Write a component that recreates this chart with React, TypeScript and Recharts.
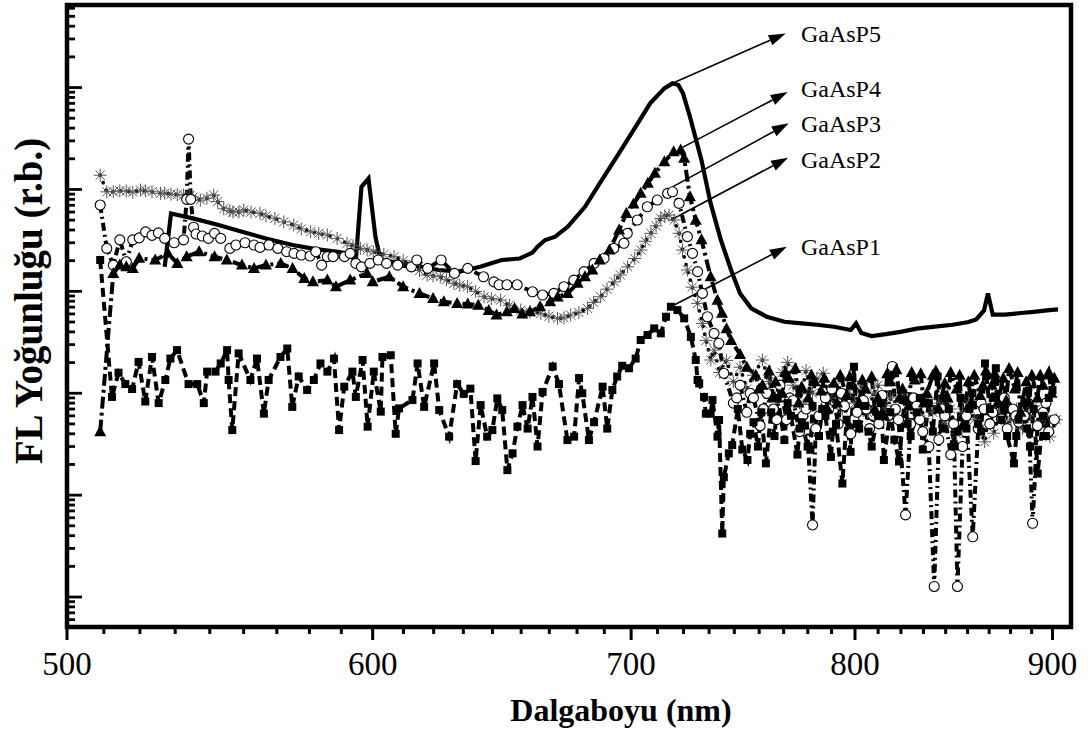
import React from 'react';
import {
  LineChart, Line, XAxis, YAxis, ReferenceArea, ReferenceLine, ReferenceDot,
} from 'recharts';

const FONT = '"Liberation Serif", "Times New Roman", serif';

// axes
const xMajor = [500, 600, 700, 800, 900];
const xDomain: [number, number] = [500, 910];
const yDomain: [number, number] = [5.08, 6.46e6];
const yDecades = [1, 10, 100, 1000, 10000, 100000, 1000000];

// GaAsP5 – solid line
const gaasp5: [number, number][] = [
  [530, 17400], [532, 58000], [539, 52000], [547, 45000], [555, 38500], [563, 33000], [572, 28500],
  [580, 26000], [587, 24500], [591, 23500], [594, 20300], [596, 106000], [598.5, 128000], [601, 34000],
  [603, 19500], [608, 19500], [615, 18000], [624, 16200], [632, 15600], [640, 17500], [648, 20300],
  [655, 21000], [660, 24000], [662, 27400], [665, 31900], [669, 34400], [674, 43000], [681, 67600],
  [687, 115000], [694, 209000], [701, 383000], [708, 700000], [714, 982000], [717.5, 1100000],
  [720, 1060000], [722, 877000], [725, 517000], [730, 194000], [734, 73000], [738.5, 31900],
  [743, 16200], [747, 9550], [752, 6810], [759, 5630], [767, 5030], [775, 4850], [782, 4700],
  [790, 4490], [798, 4170], [800.5, 4850], [803, 3900], [808, 3640], [815, 3800], [822, 4000],
  [830, 4300], [839, 4500], [848, 4700], [856, 5000], [860, 5300], [864, 6500], [866, 9550],
  [868.5, 5900], [875, 5900], [882, 6100], [890, 6300], [897, 6500], [903, 6660],
];

// GaAsP4 – filled triangles
const gaasp4: [number, number][] = [
  [510, 420], [514, 15000], [516, 18100], [518, 17400], [520, 16800], [522, 21100], [527, 20300],
  [531, 23600], [534, 18800], [537, 21900], [541, 24500], [546, 21900], [550, 20300], [555, 18100],
  [559, 16800], [563, 18100], [568, 18800], [572, 16800], [576, 13400], [579, 12400], [584, 12900],
  [587, 11100], [592, 12900], [598, 15000], [600, 12400], [606, 13900], [611, 11100], [617, 9550],
  [622, 8500], [626, 7900], [631, 7600], [635, 7500], [639, 7300], [643, 6500], [646, 5850],
  [650, 6300], [653, 6800], [656, 6000], [659, 6300], [663, 7060], [667, 7900], [670, 8800],
  [674, 9550], [678, 12000], [681, 13900], [684, 16200], [687, 20300], [691, 25400], [695, 40000],
  [698, 58200], [701, 72000], [704, 91600], [707, 115000], [710, 144000], [714, 187000],
  [718, 235000], [721, 244000], [722.5, 202000], [725, 85000], [727.5, 50000], [730, 32000],
  [734, 13900], [737, 8200], [739, 6100], [741, 4300], [743, 3300], [747, 2400], [750, 1800],
  [754, 1500], [755.5, 1100], [757, 1200], [760, 1650], [761.5, 900], [763, 1300], [766, 1000],
  [767.5, 1600], [769, 1400], [772, 1750], [773.5, 800], [775, 1150], [778, 900], [779.5, 1500],
  [781, 1300], [784, 1050], [785.5, 1400], [787, 700], [790, 1250], [791.5, 800], [793, 1500],
  [796, 950], [797.5, 1450], [799, 1200], [802, 800], [803.5, 1350], [805, 1100], [808, 1450],
  [809.5, 700], [811, 900], [814, 600], [815.5, 1550], [817, 1300], [820, 1700], [821.5, 900],
  [823, 1100], [826, 750], [827.5, 1600], [829, 1350], [832, 1550], [833.5, 800], [835, 1000],
  [838, 1500], [839.5, 1650], [841, 700], [844, 1250], [845.5, 900], [847, 1600], [850, 1100],
  [851.5, 1500], [853, 480], [856, 1300], [857.5, 800], [859, 1500], [862, 950], [863.5, 1200],
  [865, 1650], [868, 1200], [869.5, 1550], [871, 800], [874, 1400], [875.5, 850], [877, 1750],
  [880, 1100], [881.5, 1600], [883, 650], [886, 1300], [887.5, 800], [889, 1500], [892, 900],
  [893.5, 1500], [895, 1200], [898, 1600], [899.5, 1000], [901, 1400],
];

// GaAsP3 – open circles
const gaasp3: [number, number][] = [
  [510, 70300], [512, 26400], [514, 18100], [516, 32000], [518, 19500], [520, 32000], [522, 33500],
  [524, 38300], [526, 35400], [528, 37500], [530, 33100], [533, 30000], [536, 32000], [537, 80000],
  [537.6, 312000], [538.3, 80000], [539.2, 42600], [540, 36500], [542, 34900], [544, 33100],
  [546, 37100], [548, 33100], [551, 26400], [553, 28500], [556, 30000], [559, 28500], [561, 27000],
  [564, 28500], [567, 26400], [570, 24500], [572.5, 23600], [575, 22700], [578, 22200], [580, 24500],
  [582, 18100], [584, 21900], [586, 21900], [590, 21900], [592, 23600], [594, 18800], [596, 17400],
  [599, 18800], [602, 20300], [605, 18800], [609, 18100], [614, 17400], [616, 20300], [620, 16800],
  [625, 20300], [630, 15000], [635, 16800], [641, 13900], [645, 12400], [647, 11600], [650, 11600],
  [654, 11600], [660, 9900], [664, 9200], [668.5, 9550], [672.5, 11100], [676.5, 12900],
  [680.6, 15600], [684.7, 18800], [688.8, 21100], [692.8, 26400], [697, 29600], [698.4, 37100],
  [702.6, 50100], [706.8, 67600], [711, 78700], [715.4, 91600], [717.5, 94800], [720.3, 73000],
  [723.9, 34400], [726.1, 23600], [728.3, 15600], [730.4, 9550], [732.6, 5630], [735.5, 3870],
  [737.6, 3090], [739.8, 1570], [744, 800], [745.5, 900], [747, 1200], [750, 650], [751.5, 1000],
  [753, 900], [756, 480], [757.5, 700], [759, 1000], [762, 700], [763.5, 550], [765, 1200],
  [768, 550], [769.5, 900], [771, 850], [774, 420], [775.5, 600], [777, 700], [780, 51],
  [781.5, 450], [783, 600], [786, 900], [787.5, 700], [789, 1100], [792, 500], [793.5, 1000],
  [795, 750], [798, 400], [799.5, 550], [801, 650], [804, 850], [805.5, 700], [807, 450], [810, 700],
  [811.5, 500], [813, 950], [816, 600], [818, 1830], [819.5, 700], [821, 550], [824.5, 64], [827, 500],
  [828.5, 900], [830, 750], [831.5, 550], [833, 420], [836, 300], [838.7, 12.7], [841, 350],
  [842.5, 700], [844, 600], [847, 250], [848.5, 500], [850.4, 12.7], [853, 300], [855, 600],
  [858.2, 39], [861, 450], [862.5, 800], [864, 700], [867, 500], [868.5, 650], [870, 800], [873, 560],
  [874.5, 900], [876, 450], [879, 700], [880.5, 600], [882, 520], [885, 600], [887, 800],
  [889.4, 53], [892, 480], [895, 650], [896.5, 800], [898, 420], [901, 550],
];

// GaAsP2 – asterisks
const gaasp2: [number, number][] = [
  [510, 138000], [512, 94800], [514, 95000], [516, 97000], [518, 96500], [520, 94000],
  [522.4, 98600], [524, 97000], [526, 95000], [528.7, 91600], [530, 92000], [532, 90000],
  [534, 89000], [536, 88100], [538, 87000], [539, 84000], [541.4, 78700], [543.5, 82000],
  [545.7, 88100], [547, 76000], [549, 64600], [551, 62000], [552, 60000], [554, 60000],
  [555.6, 62800], [558, 60000], [561, 58200], [563, 55000], [566, 52000], [569, 48000],
  [572.4, 44800], [575, 41000], [578.2, 38500], [581, 37000], [584, 35700], [587.4, 33100],
  [590.9, 29600], [593, 28000], [595.6, 26400], [598, 25500], [600.2, 24500], [604, 23000],
  [607.7, 21900], [611, 20000], [615, 18100], [617, 16000], [619.8, 14450], [622, 14200],
  [624.7, 13900], [627, 13000], [629.8, 12000], [632, 11500], [634.9, 11100], [638, 10000],
  [641.2, 8850], [644, 8500], [647.6, 8220], [651, 7300], [655.4, 6550], [659, 6300], [663.3, 6080],
  [666.5, 5700], [669.9, 5430], [672.5, 5500], [675.2, 5850], [678.5, 6200], [682, 6810],
  [684.5, 7800], [687.4, 8850], [690, 10500], [693, 12400], [695.5, 14500], [698.5, 17400],
  [701.5, 21000], [704.1, 25400], [706, 31000], [708.3, 37100], [710.5, 44000], [712.5, 52000],
  [714.2, 55000], [716, 56100], [718.2, 50100], [720.3, 37100], [721.8, 25400], [723.9, 16200],
  [726, 11000], [728.3, 7620], [730.4, 4850], [732, 3300], [734.1, 2120], [735.5, 2650],
  [738, 1600], [741, 2100], [744, 1300], [747, 1800], [750, 1100], [753, 1500], [757, 2120],
  [760, 1300], [763, 900], [766, 1600], [768.5, 2010], [771, 1200], [774, 800], [777, 1670],
  [780, 1000], [782, 1400], [785, 1570], [788, 900], [790.8, 1160], [794, 700], [797, 1000],
  [800, 800], [803, 1200], [806, 650], [809, 1000], [811, 1200], [814, 750], [817, 900], [820, 600],
  [823, 1000], [826, 700], [829, 850], [832, 550], [835, 900], [838, 650], [841, 800], [844, 500],
  [847, 700], [850, 400], [853, 650], [856, 800], [859, 550], [862, 450], [864.3, 334], [867, 700],
  [869, 405], [872, 650], [875, 800], [878, 550], [881, 700], [884, 450], [887, 600], [890, 750],
  [893, 500], [896, 600], [898.6, 373], [902, 550],
];

// GaAsP1 – filled squares
const gaasp1: [number, number][] = [
  [510, 20300], [513.6, 920], [515.6, 1590], [517.7, 1230], [519.8, 1100], [521.8, 2030],
  [523.9, 830], [526, 2270], [528.1, 800], [530.2, 1350], [531.8, 2190], [533.9, 2650],
  [537.6, 1230], [540.4, 1230], [542.5, 800], [543.6, 1630], [546.3, 1630], [548, 1960],
  [550.1, 2650], [550.6, 1350], [551.8, 435], [553.9, 2460], [557.8, 1350], [560, 2190],
  [562.3, 630], [563.9, 1350], [567.9, 2270], [570.2, 2750], [571.9, 735], [574.1, 1460],
  [577, 1075], [579.3, 1350], [581.6, 1960], [584, 1630], [586.3, 2190], [588.1, 435], [589.9, 1160],
  [592.8, 1630], [594, 920], [596.4, 2120], [598.2, 470], [600.4, 1630], [602.9, 660], [603.5, 2270],
  [606.5, 2360], [608.3, 400], [609.5, 710], [614.4, 857], [616.3, 1960], [618.7, 735], [622.4, 1960],
  [624.3, 684], [628, 375], [631, 1230], [633.5, 985], [636, 1110], [638, 216], [639.9, 765],
  [642.4, 375], [644.4, 435], [646.3, 890], [648.2, 684], [650.2, 176], [652.2, 257], [654.1, 470],
  [656.1, 765], [658.1, 450], [660, 920], [662, 300], [664, 1030], [668, 1830], [670.5, 1230],
  [673.9, 347], [676.6, 375], [678.6, 1410], [679.9, 1000], [682.6, 347], [684.7, 520], [688.2, 1160],
  [690.1, 450], [692.2, 1075], [694.2, 1460], [696.3, 1860], [699.1, 1760], [701.9, 2190],
  [704, 3330], [706.9, 3730], [709.7, 4330], [712.5, 3870], [714.7, 5630], [716.8, 7060],
  [719.6, 6550], [722.5, 5430], [725.4, 3570], [727.5, 2120], [728.3, 1350], [729, 1250],
  [731.1, 920], [731.9, 630], [734, 630], [734.8, 857], [737, 375], [737.7, 546], [739.1, 42],
  [739.8, 150], [742, 257], [743.5, 310], [746, 700], [748, 280], [750.3, 221], [751.5, 400],
  [753, 520], [755, 300], [756.5, 650], [758.6, 205], [761, 650], [762.5, 380], [764, 900],
  [767, 347], [768.5, 800], [770, 600], [773, 250], [774, 450], [775, 520], [777.7, 300], [779, 280],
  [780, 750], [783, 380], [784.5, 700], [786, 600], [788.6, 237], [789.5, 420], [791, 500],
  [794, 130], [796, 550], [797.9, 266], [799.5, 1820], [800.8, 500], [802, 450], [805, 750],
  [806.5, 420], [808, 300], [811, 600], [812.5, 800], [813.9, 221], [817, 650], [819, 350],
  [821.3, 214], [824, 850], [825.5, 500], [827, 380], [830, 650], [831.5, 900], [833, 280],
  [836, 800], [838, 420], [840.4, 1460], [843, 450], [844.5, 900], [846, 700], [849, 300],
  [850.5, 420], [852, 900], [855, 450], [856.5, 700], [858, 1000], [861, 500], [862.5, 420],
  [864.5, 1960], [867, 700], [868.5, 900], [870.1, 1760], [873, 550], [874.5, 700], [876, 380],
  [879.6, 205], [880.8, 380], [882, 550], [885, 800], [886.5, 450], [888, 300], [890, 700],
  [892.1, 163], [895, 600], [896.5, 380], [898, 900], [900, 1075],
];

const annotations = [
  { name: 'GaAsP5', from: [717.5, 1.1e6], to: [767.6, 3.4e6], text: [774.6, 2.81e6] },
  { name: 'GaAsP4', from: [721.8, 2.59e5], to: [768.5, 9.04e5], text: [774.6, 8.13e5] },
  { name: 'GaAsP3', from: [717.5, 1.06e5], to: [769.0, 4.46e5], text: [774.6, 3.68e5] },
  { name: 'GaAsP2', from: [716.8, 5.01e4], to: [768.7, 2.05e5], text: [774.6, 1.61e5] },
  { name: 'GaAsP1', from: [718.2, 7.34e3], to: [768.1, 2.74e4], text: [774.6, 2.27e4] },
];

const toRows = (pts: [number, number][]) =>
  pts.slice().sort((a, b) => a[0] - b[0]).map(([x, y]) => ({ x, y }));

// tick lists: 8 minor ticks between major ones on x, 2..9 per decade on y
const xTicks: number[] = [];
xMajor.forEach((m, i) => {
  xTicks.push(m);
  if (i < xMajor.length - 1) {
    for (let k = 1; k <= 8; k++) xTicks.push(m + (k * 100) / 9);
  }
});
const yTicks = yDecades
  .flatMap(d => [1, 2, 3, 4, 5, 6, 7, 8, 9].map(m => m * d))
  .filter(v => v >= yDomain[0] && v <= yDomain[1]);

const XTick = (props: any) => {
  const { x, y, payload } = props;
  const major = xMajor.includes(payload.value);
  return (
    <g>
      <line x1={x} y1={y} x2={x} y2={y + (major ? 13 : 7)} stroke="#000" strokeWidth={3} />
      {major && (
        <text x={x} y={y + 48} textAnchor="middle" fontSize={33} fontFamily={FONT} fill="#000">
          {payload.value}
        </text>
      )}
    </g>
  );
};

const YTick = (props: any) => {
  const { x, y, payload } = props;
  const major = yDecades.includes(payload.value);
  return <line x1={x} y1={y} x2={x + (major ? 15 : 8)} y2={y} stroke="#000" strokeWidth={2.8} />;
};

const Square = (p: any) =>
  isFinite(p.cx) && isFinite(p.cy) ? (
    <rect key={p.index} x={p.cx - 4} y={p.cy - 4} width={8} height={8} fill="#000" />
  ) : <g key={p.index} />;

const Triangle = (p: any) =>
  isFinite(p.cx) && isFinite(p.cy) ? (
    <polygon
      key={p.index}
      points={`${p.cx},${p.cy - 6.5} ${p.cx - 6},${p.cy + 4.5} ${p.cx + 6},${p.cy + 4.5}`}
      fill="#000"
    />
  ) : <g key={p.index} />;

const OpenCircle = (p: any) =>
  isFinite(p.cx) && isFinite(p.cy) ? (
    <circle key={p.index} cx={p.cx} cy={p.cy} r={5} fill="#fff" stroke="#000" strokeWidth={1.1} />
  ) : <g key={p.index} />;

const Asterisk = (p: any) => {
  const { cx, cy } = p;
  if (!isFinite(cx) || !isFinite(cy)) return <g key={p.index} />;
  const r = 6.5, d = 4.6;
  return (
    <g key={p.index} stroke="#555" strokeWidth={1}>
      <line x1={cx - r} y1={cy} x2={cx + r} y2={cy} />
      <line x1={cx} y1={cy - r} x2={cx} y2={cy + r} />
      <line x1={cx - d} y1={cy - d} x2={cx + d} y2={cy + d} />
      <line x1={cx - d} y1={cy + d} x2={cx + d} y2={cy - d} />
    </g>
  );
};

const ArrowShape = (p: any) => {
  const { x1, y1, x2, y2 } = p;
  const dx = x2 - x1, dy = y2 - y1;
  const len = Math.hypot(dx, dy) || 1;
  const ux = dx / len, uy = dy / len;
  const hl = 17, hw = 5.5;
  const bx = x2 - ux * hl, by = y2 - uy * hl;
  return (
    <g>
      <line x1={x1} y1={y1} x2={bx} y2={by} stroke="#000" strokeWidth={1.6} />
      <polygon points={`${x2},${y2} ${bx - uy * hw},${by + ux * hw} ${bx + uy * hw},${by - ux * hw}`} fill="#000" />
    </g>
  );
};

export default function App() {
  return (
    <div style={{ position: 'absolute', left: 0, top: 0, width: 1088, height: 736, background: '#fff' }}>
      <LineChart width={1088} height={736} margin={{ top: 5, right: 17, bottom: 49, left: 7 }}>
        <XAxis
          dataKey="x" type="number" scale="log" domain={xDomain} allowDataOverflow
          ticks={xTicks} interval={0} tickSize={0} tickMargin={0} tick={XTick}
          axisLine={false} tickLine={false} height={60}
        />
        <YAxis
          type="number" scale="log" domain={yDomain} allowDataOverflow
          ticks={yTicks} interval={0} tickSize={0} tickMargin={0} tick={YTick}
          axisLine={false} tickLine={false} width={60}
        />
        <Line data={toRows(gaasp2)} dataKey="y" stroke="#000" strokeWidth={3.8} strokeDasharray="0 8"
          strokeLinecap="round" dot={Asterisk} activeDot={false} isAnimationActive={false} />
        <Line data={toRows(gaasp3)} dataKey="y" stroke="#000" strokeWidth={4} strokeDasharray="8 4 2 4"
          dot={OpenCircle} activeDot={false} isAnimationActive={false} />
        <Line data={toRows(gaasp1)} dataKey="y" stroke="#000" strokeWidth={4} strokeDasharray="9 5"
          dot={Square} activeDot={false} isAnimationActive={false} />
        <Line data={toRows(gaasp4)} dataKey="y" stroke="#000" strokeWidth={4} strokeDasharray="12 4 3 4"
          dot={Triangle} activeDot={false} isAnimationActive={false} />
        <Line data={toRows(gaasp5)} dataKey="y" stroke="#000" strokeWidth={4.2} dot={false}
          activeDot={false} isAnimationActive={false} />
        <ReferenceArea x1={xDomain[0]} x2={xDomain[1]} y1={yDomain[0]} y2={yDomain[1]}
          fill="none" stroke="#000" strokeWidth={4.5} ifOverflow="visible" />
        {annotations.map(a => (
          <ReferenceLine
            key={a.name}
            segment={[{ x: a.from[0], y: a.from[1] }, { x: a.to[0], y: a.to[1] }]}
            ifOverflow="visible"
            shape={ArrowShape}
          />
        ))}
        {annotations.map(a => (
          <ReferenceDot
            key={a.name + '-t'}
            x={a.text[0]} y={a.text[1]} r={1} ifOverflow="visible"
            shape={(p: any) => (
              <text x={p.cx} y={p.cy} fontSize={24} fontFamily={FONT} fill="#000">{a.name}</text>
            )}
          />
        ))}
      </LineChart>
      <svg width={1088} height={736} style={{ position: 'absolute', left: 0, top: 0, pointerEvents: 'none' }}>
        <text transform="translate(42,301) rotate(-90)" textAnchor="middle" fontSize={39}
          fontWeight="bold" fontFamily={FONT} fill="#000">FL Yoğunluğu (r.b.)</text>
        <text x={621} y={721} textAnchor="middle" fontSize={32} fontWeight="bold"
          fontFamily={FONT} fill="#000">Dalgaboyu (nm)</text>
      </svg>
    </div>
  );
}
